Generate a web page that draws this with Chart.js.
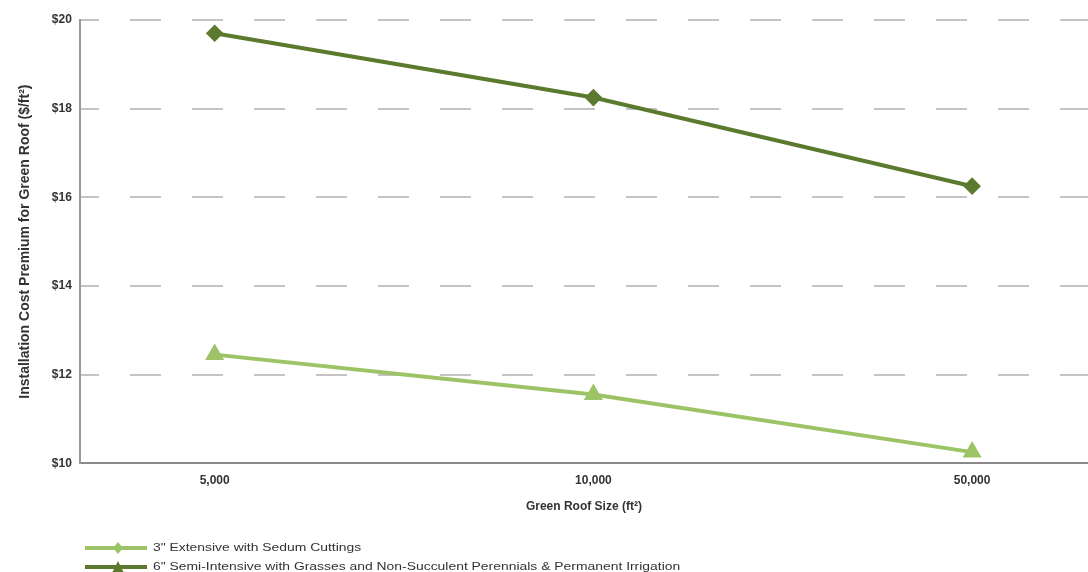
<!DOCTYPE html>
<html>
<head>
<meta charset="utf-8">
<script src="https://cdn.jsdelivr.net/npm/chart.js@4/dist/chart.umd.min.js"></script>
<style>
  html, body { margin: 0; padding: 0; background: #fff; }
  #wrap { position: relative; width: 1088px; height: 572px; }
  #legend { position: absolute; left: 85px; top: 538px; font-family: "Liberation Sans", Arial, sans-serif; font-size: 10px; color: #333; }
  .row { display: flex; align-items: center; height: 19px; }
  .row svg { margin-right: 6px; }
  .lbl { display: inline-block; transform: scaleX(1.39); transform-origin: left center; white-space: nowrap; }
</style>
</head>
<body>
<div id="wrap">
  <canvas id="c" width="1088" height="572"></canvas>
  <div id="legend"></div>
</div>
<script>
const categories = ["5,000", "10,000", "50,000"];
const seriesNames = [
  "3\" Extensive with Sedum Cuttings",
  "6\" Semi-Intensive with Grasses and Non-Succulent Perennials & Permanent Irrigation"
];
const extensive = [12.45, 11.55, 10.25];
const semiIntensive = [19.7, 18.25, 16.25];
const yTicks = [10, 12, 14, 16, 18, 20];

const lightGreen = "#9cc466";
const darkGreen = "#5c7a2e";

const ctx = document.getElementById("c");
new Chart(ctx, {
  type: "line",
  data: {
    datasets: [
      {
        label: seriesNames[0],
        data: extensive.map((v, i) => ({ x: i, y: v })),
        borderColor: lightGreen,
        backgroundColor: lightGreen,
        borderWidth: 4,
        pointStyle: "triangle",
        pointRadius: 7,
        pointHoverRadius: 7,
        tension: 0
      },
      {
        label: seriesNames[1],
        data: semiIntensive.map((v, i) => ({ x: i, y: v })),
        borderColor: darkGreen,
        backgroundColor: darkGreen,
        borderWidth: 4,
        pointStyle: "rectRot",
        pointRadius: 6,
        pointHoverRadius: 6,
        tension: 0
      }
    ]
  },
  options: {
    responsive: false,
    animation: false,
    layout: { autoPadding: false, padding: { top: 20, right: 0, bottom: 58, left: 17 } },
    plugins: { legend: { display: false }, tooltip: { enabled: false } },
    scales: {
      x: {
        type: "linear",
        min: -0.356,
        max: 2.306,
        afterBuildTicks: (s) => { s.ticks = categories.map((_, i) => ({ value: i })); },
        ticks: {
          callback: (v) => categories[v],
          font: { family: "Liberation Sans", size: 12, weight: "bold" },
          color: "#333",
          padding: 2,
          maxRotation: 0
        },
        grid: { display: false },
        border: { display: true, color: "#8a8a8a", width: 2 },
        title: {
          display: true,
          text: "Green Roof Size (ft²)",
          font: { family: "Liberation Sans", size: 12, weight: "bold" },
          color: "#333",
          padding: { top: 10, bottom: 0 }
        }
      },
      y: {
        min: 10,
        max: 20,
        afterBuildTicks: (s) => { s.ticks = yTicks.map(v => ({ value: v })); },
        ticks: {
          callback: (v) => "$" + v,
          font: { family: "Liberation Sans", size: 12, weight: "bold" },
          color: "#333",
          padding: 8
        },
        grid: {
          drawTicks: false,
          lineWidth: 2,
          color: (c) => (c.tick && c.tick.value === 10 ? "rgba(0,0,0,0)" : "#c4c4c4")
        },
        border: { display: true, color: "#9a9a9a", width: 2, dash: [31, 31], dashOffset: 13 },
        title: {
          display: true,
          text: "Installation Cost Premium for Green Roof ($/ft²)",
          font: { family: "Liberation Sans", size: 14, weight: "bold" },
          color: "#333",
          padding: { top: 0, bottom: 10 }
        }
      }
    }
  }
});

// HTML legend
const legend = document.getElementById("legend");
const legendItems = [
  { name: seriesNames[0], color: lightGreen, marker: "diamond" },
  { name: seriesNames[1], color: darkGreen, marker: "triangle" }
];
legendItems.forEach(it => {
  const row = document.createElement("div");
  row.className = "row";
  const m = it.marker === "diamond"
    ? `<polygon points="33,3 38,9 33,15 28,9" fill="${it.color}"/>`
    : `<polygon points="33,3 39,15 27,15" fill="${it.color}"/>`;
  row.innerHTML = `<svg width="62" height="18"><line x1="0" y1="9" x2="62" y2="9" stroke="${it.color}" stroke-width="4"/>${m}</svg><span class="lbl"></span>`;
  row.querySelector(".lbl").textContent = it.name;
  legend.appendChild(row);
});
</script>
</body>
</html>
